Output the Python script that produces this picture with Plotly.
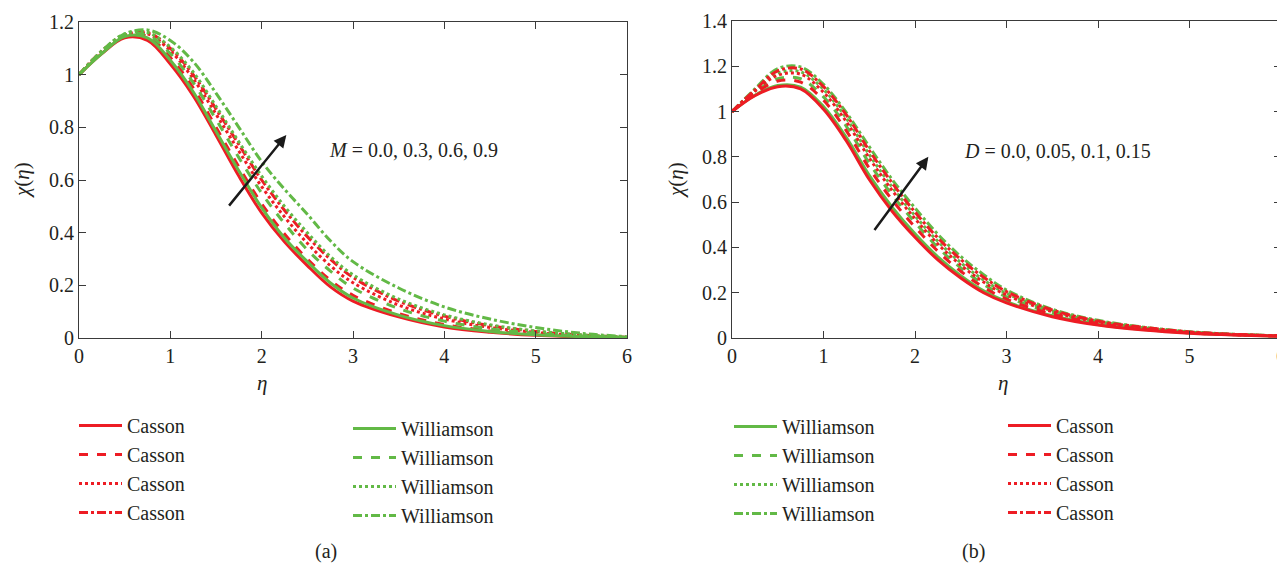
import plotly.graph_objects as go

W, H = 1285, 567
OFF = 8  # default page body margin
FW, FH = W - OFF, H - OFF
FONT = "Liberation Serif"
TXT = "#231f20"
RED = "#ed1c24"
GREEN = "#62b946"

eta = [0, 0.25, 0.5, 0.75, 1, 1.25, 1.5, 1.75, 2, 2.25, 2.5, 2.75, 3, 3.5, 4, 4.5, 5, 5.5, 6]

# Panel (a): effect of M
a_casson_M00 = [1.0, 1.08, 1.14, 1.13, 1.04, 0.92, 0.77, 0.615, 0.475, 0.365, 0.275, 0.195, 0.14, 0.08, 0.042, 0.022, 0.01, 0.004, 0.0]
a_casson_M03 = [1.0, 1.085, 1.145, 1.145, 1.065, 0.95, 0.80, 0.65, 0.51, 0.395, 0.30, 0.22, 0.162, 0.093, 0.051, 0.027, 0.013, 0.005, 0.001]
a_casson_M06 = [1.0, 1.085, 1.15, 1.155, 1.09, 0.985, 0.85, 0.71, 0.575, 0.46, 0.36, 0.275, 0.21, 0.125, 0.072, 0.04, 0.021, 0.009, 0.002]
a_casson_M09 = [1.0, 1.09, 1.15, 1.16, 1.10, 1.0, 0.87, 0.735, 0.60, 0.485, 0.385, 0.30, 0.23, 0.14, 0.083, 0.047, 0.025, 0.011, 0.003]
a_will_M00 = [1.0, 1.08, 1.145, 1.14, 1.055, 0.935, 0.785, 0.635, 0.495, 0.38, 0.29, 0.21, 0.152, 0.087, 0.047, 0.025, 0.012, 0.005, 0.001]
a_will_M03 = [1.0, 1.085, 1.15, 1.15, 1.08, 0.97, 0.83, 0.685, 0.55, 0.435, 0.335, 0.255, 0.19, 0.112, 0.064, 0.035, 0.018, 0.008, 0.002]
a_will_M06 = [1.0, 1.09, 1.155, 1.16, 1.105, 1.01, 0.88, 0.745, 0.615, 0.50, 0.40, 0.31, 0.24, 0.148, 0.088, 0.05, 0.027, 0.012, 0.003]
a_will_M09 = [1.0, 1.09, 1.155, 1.17, 1.13, 1.05, 0.93, 0.80, 0.67, 0.565, 0.47, 0.37, 0.29, 0.19, 0.118, 0.072, 0.04, 0.018, 0.005]

# Panel (b): effect of D
b_casson_D000 = [1.0, 1.07, 1.11, 1.10, 1.01, 0.87, 0.70, 0.56, 0.445, 0.345, 0.265, 0.20, 0.155, 0.094, 0.057, 0.035, 0.021, 0.013, 0.008]
b_casson_D005 = [1.0, 1.08, 1.135, 1.13, 1.05, 0.915, 0.75, 0.61, 0.49, 0.383, 0.295, 0.224, 0.172, 0.105, 0.064, 0.039, 0.023, 0.014, 0.008]
b_casson_D010 = [1.0, 1.09, 1.16, 1.165, 1.085, 0.955, 0.795, 0.652, 0.527, 0.415, 0.322, 0.247, 0.19, 0.116, 0.07, 0.043, 0.025, 0.015, 0.009]
b_casson_D015 = [1.0, 1.095, 1.18, 1.188, 1.11, 0.985, 0.828, 0.685, 0.556, 0.442, 0.347, 0.268, 0.205, 0.124, 0.075, 0.047, 0.027, 0.016, 0.01]
b_will_D000 = [1.0, 1.072, 1.115, 1.108, 1.022, 0.885, 0.718, 0.578, 0.46, 0.358, 0.275, 0.208, 0.16, 0.098, 0.06, 0.037, 0.022, 0.014, 0.008]
b_will_D005 = [1.0, 1.085, 1.145, 1.145, 1.065, 0.935, 0.772, 0.632, 0.51, 0.40, 0.31, 0.237, 0.182, 0.111, 0.067, 0.041, 0.024, 0.015, 0.009]
b_will_D010 = [1.0, 1.092, 1.17, 1.175, 1.098, 0.97, 0.81, 0.667, 0.54, 0.427, 0.333, 0.256, 0.197, 0.12, 0.073, 0.045, 0.026, 0.016, 0.009]
b_will_D015 = [1.0, 1.1, 1.19, 1.197, 1.12, 0.995, 0.845, 0.70, 0.574, 0.458, 0.36, 0.28, 0.212, 0.127, 0.078, 0.048, 0.028, 0.016, 0.01]

dashes = ["solid", "dash", "dot", "dashdot"]
a_casson = [a_casson_M00, a_casson_M03, a_casson_M06, a_casson_M09]
a_will = [a_will_M00, a_will_M03, a_will_M06, a_will_M09]
b_casson = [b_casson_D000, b_casson_D005, b_casson_D010, b_casson_D015]
b_will = [b_will_D000, b_will_D005, b_will_D010, b_will_D015]

fig = go.Figure()

def add(ys, color, dash, name, xa, ya, legend):
    fig.add_trace(go.Scatter(
        x=eta, y=ys, mode="lines", name=name,
        line=dict(color=color, width=3, dash=dash, shape="spline", smoothing=1.0),
        xaxis=xa, yaxis=ya, legend=legend, hoverinfo="skip"))

for ys, d in zip(a_casson, dashes):
    add(ys, RED, d, "Casson", "x", "y", "legend")
for ys, d in zip(a_will, dashes):
    add(ys, GREEN, d, "Williamson", "x", "y", "legend2")
for ys, d in zip(b_will, dashes):
    add(ys, GREEN, d, "Williamson", "x2", "y2", "legend3")
for ys, d in zip(b_casson, dashes):
    add(ys, RED, d, "Casson", "x2", "y2", "legend4")

def px_x(p):
    return (p - OFF) / FW

def px_y(p):
    return 1 - (p - OFF) / FH

axis_common = dict(
    showline=True, linecolor="#3a3a3a", linewidth=1, mirror="ticks",
    ticks="inside", ticklen=7, tickwidth=1, tickcolor="#3a3a3a",
    showgrid=False, zeroline=False, automargin=False,
    tickfont=dict(family=FONT, size=20, color=TXT),
)

fig.update_layout(
    width=FW, height=FH,
    margin=dict(l=0, r=0, t=0, b=0, autoexpand=False),
    paper_bgcolor="white", plot_bgcolor="white",
    font=dict(family=FONT, color=TXT),
    xaxis=dict(domain=[px_x(79), px_x(627)], range=[0, 6], dtick=1, anchor="y", **axis_common),
    yaxis=dict(domain=[px_y(338), px_y(22)], range=[0, 1.2], dtick=0.2, anchor="x", **axis_common),
    xaxis2=dict(domain=[px_x(732), px_x(1281)], range=[0, 6], dtick=1, anchor="y2",
                ticklabeloverflow="allow", **axis_common),
    yaxis2=dict(domain=[px_y(338), px_y(21)], range=[0, 1.4], dtick=0.2, anchor="x2", **axis_common),
)

leg_common = dict(
    font=dict(family=FONT, size=20, color=TXT),
    bgcolor="rgba(0,0,0,0)", borderwidth=0, tracegroupgap=0,
    itemwidth=43, xanchor="left", yanchor="top", orientation="v",
    traceorder="normal", itemclick=False, itemdoubleclick=False,
)
fig.update_layout(
    legend=dict(x=px_x(74), y=px_y(406), **leg_common),
    legend2=dict(x=px_x(348), y=px_y(409), **leg_common),
    legend3=dict(x=px_x(729), y=px_y(407), **leg_common),
    legend4=dict(x=px_x(1003), y=px_y(406), **leg_common),
)

def label(xp, yp, text, size=21, angle=0):
    return dict(x=px_x(xp), y=px_y(yp), xref="paper", yref="paper", showarrow=False,
                xanchor="center", yanchor="middle", textangle=angle,
                text=text, font=dict(family=FONT, size=size, color=TXT))

anns = [
    dict(x=2.27, y=0.771, ax=1.63, ay=0.497, xref="x", yref="y", axref="x", ayref="y",
         showarrow=True, arrowhead=2, arrowsize=1, arrowwidth=2.5, arrowcolor="#1a1a1a", text=""),
    dict(x=2.146, y=0.80, ax=1.545, ay=0.47, xref="x2", yref="y2", axref="x2", ayref="y2",
         showarrow=True, arrowhead=2, arrowsize=1, arrowwidth=2.5, arrowcolor="#1a1a1a", text=""),
    dict(x=2.71, y=0.714, xref="x", yref="y", xanchor="left", yanchor="middle", showarrow=False,
         text="<i>M</i> = 0.0, 0.3, 0.6, 0.9", font=dict(family=FONT, size=20, color=TXT)),
    dict(x=2.51, y=0.826, xref="x2", yref="y2", xanchor="left", yanchor="middle", showarrow=False,
         text="<i>D</i> = 0.0, 0.05, 0.1, 0.15", font=dict(family=FONT, size=20, color=TXT)),
    label(262, 383, "<i>η</i>"),
    label(1003, 383, "<i>η</i>"),
    label(22, 180, "<i>χ</i>(<i>η</i>)", angle=-90),
    label(676, 180, "<i>χ</i>(<i>η</i>)", angle=-90),
    label(326, 551, "(a)", size=20),
    label(973, 551, "(b)", size=20),
]
fig.update_layout(annotations=anns)

fig.write_html("out.html")
